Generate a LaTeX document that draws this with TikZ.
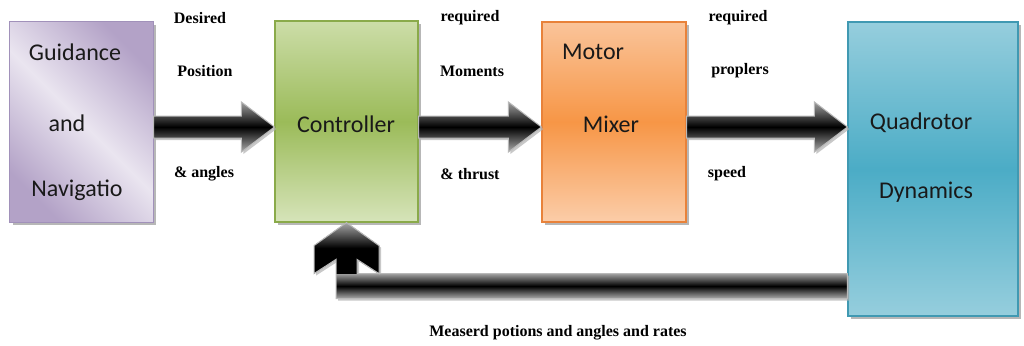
\documentclass[tikz,border=0pt]{standalone}
\usepackage{fontspec}
\setmainfont{Carlito}
\newfontfamily\lblfont{Liberation Serif}
\usetikzlibrary{calc,shadows}
\definecolor{puredge}{HTML}{B3A2C7}
\definecolor{purlight}{HTML}{EAE5F0}
\definecolor{purdraw}{HTML}{A191BA}
\definecolor{grnlight}{HTML}{CCDDA8}
\definecolor{grnmid}{HTML}{9BBB59}
\definecolor{grndraw}{HTML}{8AAA4A}
\definecolor{orglight}{HTML}{FAC49A}
\definecolor{orgmid}{HTML}{F79646}
\definecolor{orgdraw}{HTML}{E8823A}
\definecolor{blulight}{HTML}{96CEDD}
\definecolor{blumid}{HTML}{4BACC6}
\definecolor{bludraw}{HTML}{4099B2}
\tikzset{
  blockbox/.style={rectangle, line width=1.2pt, inner sep=0pt,
    drop shadow={shadow xshift=3pt, shadow yshift=-3pt, fill=gray!70, opacity=0.8}},
  boxtext/.style={font=\fontsize{24}{28}\selectfont, text=black!90, inner sep=0pt},
  lbl/.style={font=\lblfont\bfseries\fontsize{16}{19}\selectfont, inner sep=0pt},
  fatarr/.style={draw=gray!55, line width=1pt, top color=gray!75, bottom color=gray!65,
    middle color=black,
    drop shadow={shadow xshift=2pt, shadow yshift=-2pt, fill=gray!60, opacity=0.7}}
}
\newcommand\fatarrow[2]{%
  \path[fatarr] let \p1=(#1), \p2=(#2) in
    (\x1,\y1-11pt) -- (\x2-33pt,\y1-11pt) -- (\x2-33pt,\y1-25pt) -- (\x2,\y1)
    -- (\x2-33pt,\y1+25pt) -- (\x2-33pt,\y1+11pt) -- (\x1,\y1+11pt) -- cycle;}
\newcommand\fbpath{let \p1=(fbs), \p2=(ct.south) in
  (\x1,\y1+12.5pt) -- (\x2+10.5pt,\y1+12.5pt) -- (\x2+10.5pt,\y2-36.8pt)
  -- (\x2+32.5pt,\y2-51pt) -- (\x2+32.5pt,\y2-23pt) -- (\x2,\y2)
  -- (\x2-32.5pt,\y2-23pt) -- (\x2-32.5pt,\y2-51pt) -- (\x2-10.5pt,\y2-36.8pt)
  -- (\x2-10.5pt,\y1-12.5pt) -- (\x1,\y1-12.5pt) -- cycle}
\begin{document}
\begin{tikzpicture}[x=1pt,y=-1pt]
\useasboundingbox[fill=white] (0,0) rectangle (1024,345);
% blocks
\node[blockbox, draw=purdraw, fill=white, minimum width=143pt, minimum height=200pt]
  (gn) at (81.5,122) {};
\shade[top color=puredge, bottom color=puredge, middle color=purlight, shading angle=-45]
  (gn.south west) rectangle (gn.north east);
\draw[purdraw, line width=1.2pt] (gn.south west) rectangle (gn.north east);
\node[blockbox, draw=grndraw, minimum width=143pt, minimum height=201pt,
  top color=grnlight, bottom color=grnlight!80!white, middle color=grnmid]
  (ct) at (346.5,121.5) {};
\node[blockbox, draw=orgdraw, minimum width=144pt, minimum height=200pt,
  top color=orglight, bottom color=orglight!85!white, middle color=orgmid]
  (mm) at (614,122) {};
\node[blockbox, draw=bludraw, minimum width=170pt, minimum height=294pt,
  top color=blulight, bottom color=blulight, middle color=blumid]
  (qd) at (933,169) {};
% block texts
\node[boxtext] (gt1) at (75,52) {Guidance};
\node[boxtext] (gt2) at (67,123) {and};
\node[boxtext] (gt3) at (77,190) {Navigatio};
\node[boxtext] (ctt) at (346,124) {Controller};
\node[boxtext] (mt1) at (593,52) {Motor};
\node[boxtext] (mt2) at (611,124) {Mixer};
\node[boxtext] (qt1) at (921,123) {Quadrotor};
\node[boxtext] (qt2) at (926,192) {Dynamics};
% forward arrows
\fatarrow{$(gn.east)+(0,5)$}{$(ct.west)+(0,5.5)$}
\fatarrow{$(ct.east)+(0,5.5)$}{$(mm.west)+(0,5)$}
\fatarrow{$(mm.east)+(0,5)$}{$(qd.west)+(0,-42)$}
% feedback arrow
\coordinate (fbs) at ($(qd.south west)+(0,-30.5)$);
\path[fill=black, drop shadow={shadow xshift=2pt, shadow yshift=-2pt, fill=gray!60, opacity=0.7}] \fbpath;
\begin{scope}
  \clip \fbpath;
  \shade[top color=gray!75, bottom color=gray!65, middle color=black]
    ($(fbs)+(0,-12.5)$) rectangle ($(fbs -| ct.south)+(-12,12.5)$);
  \shade[top color=gray!70, bottom color=black, middle color=black]
    ($(ct.south)+(-34,0)$) rectangle ($(ct.south)+(34,51)$);
\end{scope}
\path[draw=gray!55, line width=1pt] \fbpath;
% labels
\node[lbl] (l1a) at (200,18) {Desired};
\node[lbl] (l1b) at (205,71) {Position};
\node[lbl] (l1c) at (204,174) {\& angles};
\node[lbl] (l2a) at (470,18) {required};
\node[lbl] (l2b) at (472,71) {Moments};
\node[lbl] (l2c) at (470,174) {\& thrust};
\node[lbl] (l3a) at (738,18) {required};
\node[lbl] (l3b) at (740,71) {proplers};
\node[lbl] (l3c) at (727,174) {speed};
\node[lbl] (fb) at (558,333) {Measerd potions and angles and rates};
\end{tikzpicture}
\end{document}
